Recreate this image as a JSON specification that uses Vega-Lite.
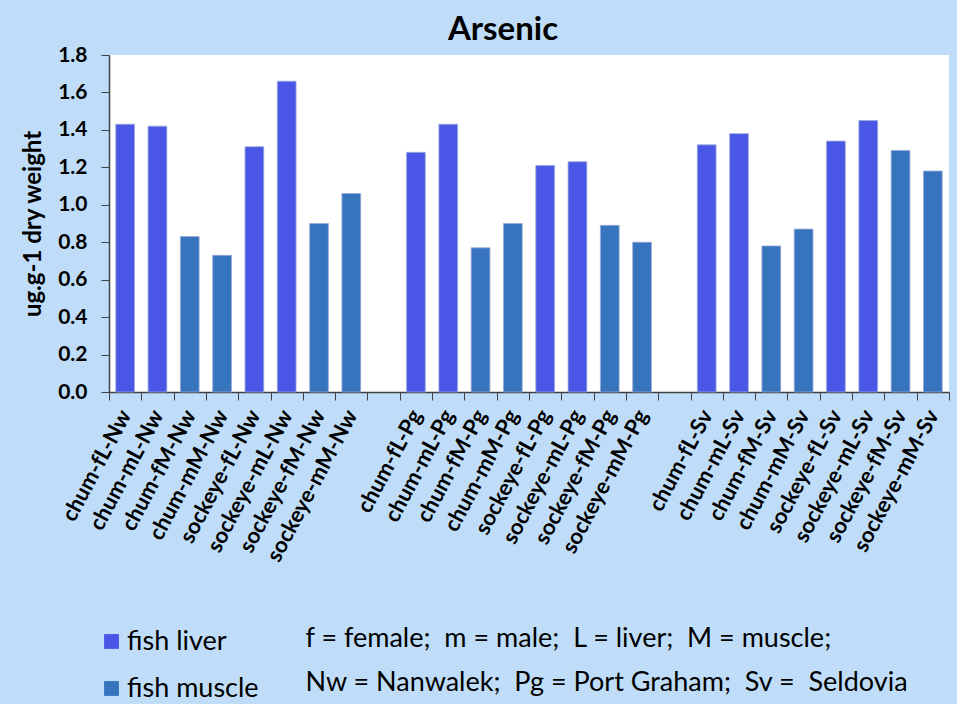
{
  "$schema": "https://vega.github.io/schema/vega-lite/v6.json",
  "width": 840,
  "height": 337,
  "autosize": {"type": "none"},
  "padding": {"left": 109, "top": 55, "right": 8, "bottom": 312},
  "background": "#bfddf8",
  "title": {"text": "Arsenic", "fontSize": 33, "font": "Lato", "fontWeight": "bold", "color": "#000000", "anchor": "middle", "frame": "group", "dx": -26, "offset": 10, "dy": 13},
  "data": {"values": [
    {"cat": "chum-fL-Nw", "tissue": "fish liver", "value": 1.43},
    {"cat": "chum-mL-Nw", "tissue": "fish liver", "value": 1.42},
    {"cat": "chum-fM-Nw", "tissue": "fish muscle", "value": 0.83},
    {"cat": "chum-mM-Nw", "tissue": "fish muscle", "value": 0.73},
    {"cat": "sockeye-fL-Nw", "tissue": "fish liver", "value": 1.31},
    {"cat": "sockeye-mL-Nw", "tissue": "fish liver", "value": 1.66},
    {"cat": "sockeye-fM-Nw", "tissue": "fish muscle", "value": 0.90},
    {"cat": "sockeye-mM-Nw", "tissue": "fish muscle", "value": 1.06},
    {"cat": "chum-fL-Pg", "tissue": "fish liver", "value": 1.28},
    {"cat": "chum-mL-Pg", "tissue": "fish liver", "value": 1.43},
    {"cat": "chum-fM-Pg", "tissue": "fish muscle", "value": 0.77},
    {"cat": "chum-mM-Pg", "tissue": "fish muscle", "value": 0.90},
    {"cat": "sockeye-fL-Pg", "tissue": "fish liver", "value": 1.21},
    {"cat": "sockeye-mL-Pg", "tissue": "fish liver", "value": 1.23},
    {"cat": "sockeye-fM-Pg", "tissue": "fish muscle", "value": 0.89},
    {"cat": "sockeye-mM-Pg", "tissue": "fish muscle", "value": 0.80},
    {"cat": "chum-fL-Sv", "tissue": "fish liver", "value": 1.32},
    {"cat": "chum-mL-Sv", "tissue": "fish liver", "value": 1.38},
    {"cat": "chum-fM-Sv", "tissue": "fish muscle", "value": 0.78},
    {"cat": "chum-mM-Sv", "tissue": "fish muscle", "value": 0.87},
    {"cat": "sockeye-fL-Sv", "tissue": "fish liver", "value": 1.34},
    {"cat": "sockeye-mL-Sv", "tissue": "fish liver", "value": 1.45},
    {"cat": "sockeye-fM-Sv", "tissue": "fish muscle", "value": 1.29},
    {"cat": "sockeye-mM-Sv", "tissue": "fish muscle", "value": 1.18}
  ]},
  "mark": {"type": "bar", "width": {"band": 0.58}, "stroke": "#9aa8d8", "strokeWidth": 0.8},
  "encoding": {
    "x": {
      "field": "cat", "type": "nominal", "sort": null,
      "scale": {"domain": ["chum-fL-Nw","chum-mL-Nw","chum-fM-Nw","chum-mM-Nw","sockeye-fL-Nw","sockeye-mL-Nw","sockeye-fM-Nw","sockeye-mM-Nw"," ","chum-fL-Pg","chum-mL-Pg","chum-fM-Pg","chum-mM-Pg","sockeye-fL-Pg","sockeye-mL-Pg","sockeye-fM-Pg","sockeye-mM-Pg","  ","chum-fL-Sv","chum-mL-Sv","chum-fM-Sv","chum-mM-Sv","sockeye-fL-Sv","sockeye-mL-Sv","sockeye-fM-Sv","sockeye-mM-Sv"], "paddingInner": 0, "paddingOuter": 0},
      "axis": {
        "tickBand": "extent", "labelAngle": -62, "labelFont": "Lato", "labelFontSize": 22, "labelFontWeight": "bold", "labelColor": "#000000", "labelPadding": 11,
        "tickSize": 8, "tickColor": "#404040", "domainColor": "#404040", "domainWidth": 1.5, "grid": false,
        "title": ["f = female;\u00a0 m = male;\u00a0 L = liver;\u00a0 M = muscle;", "Nw = Nanwalek;\u00a0 Pg = Port Graham;\u00a0 Sv =\u00a0 Seldovia"],
        "titleX": 196, "titleY": 233, "titleAlign": "left", "titleAnchor": "start", "titleBaseline": "top", "titleAngle": 0,
        "titleFont": "Lato", "titleFontSize": 27, "titleFontWeight": "normal", "titleColor": "#000000", "titleLineHeight": 44
      }
    },
    "y": {
      "field": "value", "type": "quantitative",
      "scale": {"domain": [0, 1.8], "nice": false},
      "axis": {
        "values": [0, 0.2, 0.4, 0.6, 0.8, 1.0, 1.2, 1.4, 1.6, 1.8], "format": ".1f", "grid": false,
        "labelFont": "Lato", "labelFontSize": 21, "labelFontWeight": "bold", "labelColor": "#000000", "labelPadding": 14,
        "tickSize": 8, "tickColor": "#404040", "domainColor": "#404040", "domainWidth": 1.5,
        "title": "ug.g-1 dry weight", "titleFont": "Lato", "titleFontSize": 24, "titleFontWeight": "bold", "titleColor": "#000000", "titlePadding": 12
      }
    },
    "color": {
      "field": "tissue", "type": "nominal",
      "scale": {"domain": ["fish liver", "fish muscle"], "range": ["#4a57e6", "#3674bd"]},
      "legend": {
        "orient": "none", "legendX": -11, "legendY": 573, "title": null, "symbolType": "square", "symbolSize": 220,
        "symbolStrokeWidth": 0, "labelFont": "Lato", "labelFontSize": 27, "labelColor": "#000000", "rowPadding": 19, "labelOffset": 2
      }
    }
  },
  "config": {"view": {"fill": "#ffffff", "stroke": null}}
}
